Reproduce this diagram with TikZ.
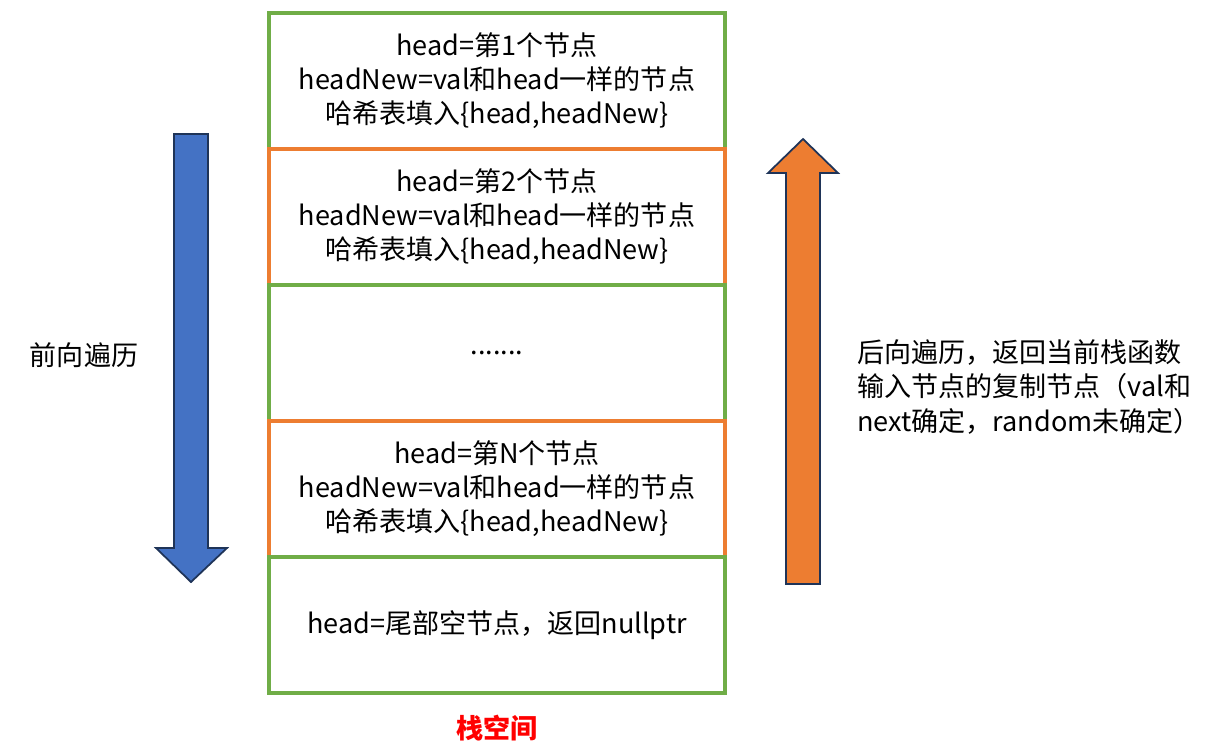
\documentclass[tikz,border=0pt]{standalone}
\usepackage{fontspec}
\setmainfont{Noto Sans CJK SC}
\usetikzlibrary{positioning}
\definecolor{rowgreen}{HTML}{70AD47}
\definecolor{roworange}{HTML}{ED7D31}
\definecolor{arrowblue}{HTML}{4472C4}
\definecolor{arrowedge}{HTML}{1F3458}

\begin{document}
\begin{tikzpicture}[
    x=0.02cm, y=-0.02cm,
    stackrow/.style={draw, line width=2.2pt, minimum width=9.12cm, minimum height=2.72cm, align=center, font=\fontsize{15.4}{19.4}\selectfont},
    label/.style={inner sep=0pt, align=left, font=\fontsize{15.4}{19.4}\selectfont},
    blockarrow/.style={draw=arrowedge, line width=1pt, line join=miter}
]
    \useasboundingbox (0,0) rectangle (1229,745);

    % Stack frames
    \node[stackrow, draw=rowgreen] (row1) at (497,81) {head=第1个节点\\headNew=val和head一样的节点\\哈希表填入\{head,headNew\}};
    \node[stackrow, draw=roworange] (row2) at (497,217) {head=第2个节点\\headNew=val和head一样的节点\\哈希表填入\{head,headNew\}};
    \node[stackrow, draw=rowgreen] (row3) at (497,353) {.......};
    \node[stackrow, draw=roworange] (row4) at (497,489) {head=第N个节点\\headNew=val和head一样的节点\\哈希表填入\{head,headNew\}};
    \node[stackrow, draw=rowgreen] (row5) at (497,625) {head=尾部空节点，返回nullptr};

    \node[label, text=red, font=\fontsize{15.4}{19.4}\selectfont\bfseries] (title) at (497,728) {栈空间};

    % Forward pass
    \draw[blockarrow, fill=arrowblue] (174,134) -- (208,134) -- (208,548) -- (227,548) -- (191,582) -- (156,548) -- (174,548) -- cycle;
    \node[label] (fwd) at (84,355) {前向遍历};

    % Backward pass
    \draw[blockarrow, fill=roworange] (786,584) -- (820,584) -- (820,173) -- (838,173) -- (803,139) -- (768,173) -- (786,173) -- cycle;
    \node[label, anchor=west] (bwd) at (857,387) {后向遍历，返回当前栈函数\\输入节点的复制节点（val和\\next确定，random未确定）};
\end{tikzpicture}
\end{document}
